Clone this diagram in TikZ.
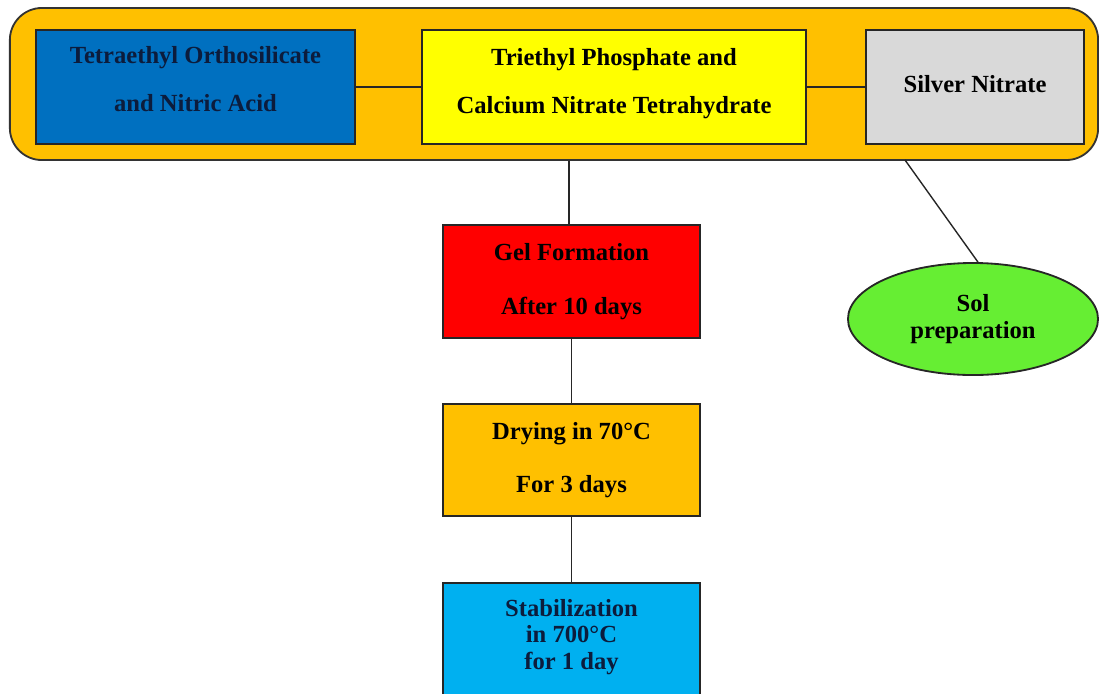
\documentclass[tikz,border=0pt]{standalone}
\usepackage{fontspec}
\setmainfont{Liberation Serif}
\usetikzlibrary{shapes.geometric}

\definecolor{framebg}{RGB}{255,192,0}
\definecolor{teosbg}{RGB}{0,112,192}
\definecolor{teostext}{RGB}{12,28,60}
\definecolor{tphbg}{RGB}{255,255,0}
\definecolor{silverbg}{RGB}{217,217,217}
\definecolor{gelbg}{RGB}{255,0,0}
\definecolor{drybg}{RGB}{255,192,0}
\definecolor{stabbg}{RGB}{0,176,240}
\definecolor{solbg}{RGB}{102,238,51}

\begin{document}
\begin{tikzpicture}[x=0.025cm, y=-0.025cm,
    box/.style={draw=black!85, line width=1.3pt, inner sep=0pt, align=center,
        font=\bfseries\fontsize{17.5}{19}\selectfont},
    link/.style={draw=black!85, line width=1pt}]
    \useasboundingbox (0,0) rectangle (1099,693);

    \node[draw=black!80, line width=1.3pt, fill=framebg, rounded corners=0.8cm,
        minimum width=27.2cm, minimum height=3.8cm] (frame) at (554,84) {};

    \node[box, fill=teosbg, text=teostext, minimum width=7.975cm, minimum height=2.85cm] (teos) at (195.5,87)
        {Tetraethyl Orthosilicate\\[15pt] and Nitric Acid\rule[-11pt]{0pt}{0pt}};
    \node[box, fill=tphbg, minimum width=9.6cm, minimum height=2.85cm] (tph) at (614,87)
        {Triethyl Phosphate and\\[15pt] Calcium Nitrate Tetrahydrate\rule[-9pt]{0pt}{0pt}};
    \node[box, fill=silverbg, minimum width=5.45cm, minimum height=2.85cm] (silver) at (975,87)
        {\raisebox{5pt}{Silver Nitrate}};

    \node[box, fill=gelbg, minimum width=6.425cm, minimum height=2.825cm] (gel) at (571.5,281.5)
        {Gel Formation\\[19pt] After 10 days};
    \node[box, fill=drybg, minimum width=6.425cm, minimum height=2.8cm] (dry) at (571.5,460)
        {Drying in 70°C\\[19pt] For 3 days};
    \node[box, fill=stabbg, minimum width=6.425cm, minimum height=3.5cm, anchor=north] (stab) at (571.5,582) {};
    \node[font=\bfseries\fontsize{17.5}{19}\selectfont, text=teostext, align=center, inner sep=0pt] (stabtext) at (571.5,637)
        {Stabilization\\ in 700°C\\ for 1 day};

    \node[box, ellipse, fill=solbg, minimum width=6.25cm, minimum height=2.8cm] (sol) at (973,319)
        {Sol\\ preparation};

    \draw[link] (teos.east) -- (tph.west);
    \draw[link] (tph.east) -- (silver.west);
    \draw[link] (frame.south -| 569,0) -- (569,225);
    \draw[link] (gel.south) -- (dry.north);
    \draw[link] (dry.south) -- (stab.north);
    \coordinate (solend) at (905,160);
    \draw[link] (solend) -- (sol.85);

\end{tikzpicture}
\end{document}
